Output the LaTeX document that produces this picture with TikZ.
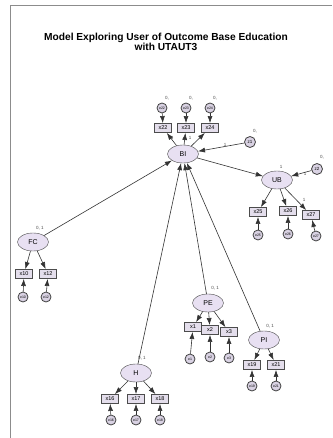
\documentclass[tikz,border=0pt]{standalone}
\usepackage{fontspec}
\setmainfont{Liberation Sans}
\usetikzlibrary{shapes.geometric,arrows.meta}
\definecolor{latfill}{HTML}{E8E0F2}
\definecolor{obsfill}{HTML}{E4DEEC}
\definecolor{errfill}{HTML}{D9D2E3}
\begin{document}
\begin{tikzpicture}[x=1pt,y=-1pt,
 lat/.style={ellipse,draw=black!70,fill=latfill,minimum width=31pt,minimum height=18pt,inner sep=0pt,font=\fontsize{7}{7.5}\selectfont},
 obs/.style={rectangle,draw=black!70,fill=obsfill,minimum width=17pt,minimum height=9pt,inner sep=0pt,line width=0.9pt,font=\fontsize{5.5}{6}\selectfont},
 err/.style={circle,draw=black!75,fill=errfill,minimum size=10pt,inner sep=0pt,line width=0.8pt,font=\fontsize{3.5}{4}\selectfont},
 con/.style={draw=black!80,line width=0.6pt,-{Latex[length=7pt,width=5pt]}},
 lab/.style={font=\fontsize{4.5}{5}\selectfont,text=black!70,inner sep=0pt}
]
\useasboundingbox (0,0) rectangle (332,438);
\fill[white] (0,0) rectangle (332,438);
\draw[black!45,line width=1pt] (10,438) -- (10,6) -- (332,6);
\node[font=\bfseries\fontsize{10.2}{10}\selectfont,align=center] (title) at (166,41.5)
 {Model Exploring User of Outcome Base Education\\with UTAUT3};

% BI
\node[lat] (BI) at (183,154) {BI};
\node[obs] (x22) at (163,128) {x22};
\node[obs] (x23) at (186,128) {x23};
\node[obs] (x24) at (210,128) {x24};
\node[err] (e22) at (162,108) {e22};
\node[err] (e23) at (186,108) {e23};
\node[err] (e24) at (210,108) {e24};
\node[lab] (l22) at (167,98) {0,};
\node[lab] (l23) at (191,98) {0,};
\node[lab] (l24) at (215,98) {0,};
\draw[con] (e22) -- (x22);
\draw[con] (e23) -- (x23);
\draw[con] (e24) -- (x24);
\draw[con] (BI) -- (x22);
\draw[con] (BI) -- (x23);
\draw[con] (BI) -- (x24);
\node[lab] (lb23) at (190,138) {1};
\node[lab] (lb22) at (172,138) {1};

% z1
\node[err,minimum size=11pt,font=\fontsize{4.5}{5}\selectfont] (z1) at (250,142) {z1};
\node[lab] (lz1) at (255,131) {0,};
\node[lab] (lz1b) at (225,145) {1};
\draw[con] (z1) -- (BI);

% UB
\node[lat] (UB) at (277,180) {UB};
\node[lab] (lub) at (281,167) {1};
\draw[con] (BI) -- (UB);
\node[err,minimum size=11pt,font=\fontsize{4.5}{5}\selectfont] (z2) at (317,169) {z2};
\node[lab] (lz2) at (322,157) {0,};
\node[lab] (lz2b) at (305,174) {1};
\draw[con] (z2) -- (UB);
\node[obs] (x25) at (258,212) {x25};
\node[obs] (x26) at (288,211) {x26};
\node[obs] (x27) at (311,215) {x27};
\node[err] (e25) at (258,235) {e25};
\node[err] (e26) at (288,234) {e26};
\node[err] (e27) at (316,236) {e27};
\draw[con] (UB) -- (x25);
\draw[con] (UB) -- (x26);
\draw[con] (UB) -- (x27);
\draw[con] (e25) -- (x25);
\draw[con] (e26) -- (x26);
\draw[con] (e27) -- (x27);
\node[lab] (lx27) at (304,200) {1};

% FC
\node[lat] (FC) at (33,242) {FC};
\node[lab] (lfc) at (40,228) {0, 1};
\draw[con] (FC) -- (BI);
\node[obs] (x10) at (24,274) {x10};
\node[obs] (x12) at (48,274) {x12};
\node[err] (e10) at (23,297) {e10};
\node[err] (e12) at (46,297) {e12};
\draw[con] (FC) -- (x10);
\draw[con] (FC) -- (x12);
\draw[con] (e10) -- (x10);
\draw[con] (e12) -- (x12);

% PE
\node[lat] (PE) at (208,303) {PE};
\node[lab] (lpe) at (215,288) {0, 1};
\draw[con] (PE) -- (BI);
\node[obs] (x1) at (193,327) {x1};
\node[obs] (x2) at (210,330) {x2};
\node[obs] (x3) at (229,332) {x3};
\node[err] (e1) at (190,359) {e1};
\node[err] (e2) at (210,357) {e2};
\node[err] (e3) at (229,358) {e3};
\draw[con] (PE) -- (x1);
\draw[con] (PE) -- (x2);
\draw[con] (PE) -- (x3);
\draw[con] (e1) -- (x1);
\draw[con] (e2) -- (x2);
\draw[con] (e3) -- (x3);

% PI
\node[lat] (PI) at (264,340) {PI};
\node[lab] (lpi) at (270,326) {0, 1};
\draw[con] (PI) -- (BI);
\node[obs] (x19) at (252,365) {x19};
\node[obs] (x21) at (276,365) {x21};
\node[err] (e19) at (252,386) {e19};
\node[err] (e21) at (276,386) {e21};
\draw[con] (PI) -- (x19);
\draw[con] (PI) -- (x21);
\draw[con] (e19) -- (x19);
\draw[con] (e21) -- (x21);

% H
\node[lat] (H) at (136,373) {H};
\node[lab] (lh) at (142,358) {0, 1};
\draw[con] (H) -- (BI);
\node[obs] (x16) at (110,399) {x16};
\node[obs] (x17) at (136,399) {x17};
\node[obs] (x18) at (160,399) {x18};
\node[err] (e16) at (111,420) {e16};
\node[err] (e17) at (136,420) {e17};
\node[err] (e18) at (160,420) {e18};
\draw[con] (H) -- (x16);
\draw[con] (H) -- (x17);
\draw[con] (H) -- (x18);
\draw[con] (e16) -- (x16);
\draw[con] (e17) -- (x17);
\draw[con] (e18) -- (x18);
\end{tikzpicture}
\end{document}
